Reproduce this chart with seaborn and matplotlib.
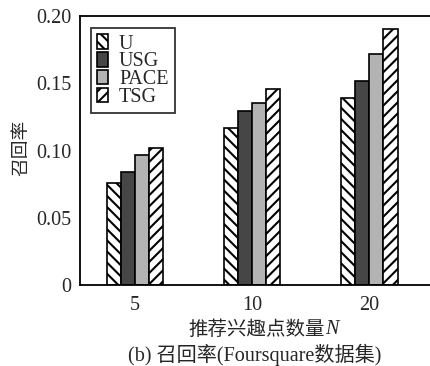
import matplotlib
matplotlib.use("Agg")
import matplotlib.pyplot as plt
import seaborn as sns
import pandas as pd

categories = ["5", "10", "20"]
methods = ["U", "USG", "PACE", "TSG"]
vals_U = [0.076, 0.117, 0.139]
vals_USG = [0.084, 0.129, 0.152]
vals_PACE = [0.097, 0.135, 0.172]
vals_TSG = [0.102, 0.146, 0.190]
yticks = [0, 0.05, 0.10, 0.15, 0.20]
ytick_labels = ["0", "0.05", "0.10", "0.15", "0.20"]

rows = []
for m, vs in zip(methods, [vals_U, vals_USG, vals_PACE, vals_TSG]):
    for c, v in zip(categories, vs):
        rows.append({"N": c, "method": m, "value": v})
df = pd.DataFrame(rows)

sns.set_style("white")
plt.rcParams["font.family"] = ["Liberation Serif", "Noto Sans CJK SC"]
plt.rcParams["hatch.linewidth"] = 1.5
plt.rcParams["hatch.color"] = "black"

fig = plt.figure(figsize=(4.3, 3.66), dpi=100)
ax = fig.add_axes([80 / 430, 1 - 285 / 366, 350 / 430, 269 / 366])

face = {"U": "white", "USG": "#464646", "PACE": "#b3b3b3", "TSG": "white"}
hatch = {"U": "\\\\\\", "USG": "", "PACE": "", "TSG": "///"}

sns.barplot(data=df, x="N", y="value", hue="method", order=categories,
            hue_order=methods, width=0.485, ax=ax, palette=face,
            edgecolor="black", linewidth=1.2, saturation=1, legend=True)

for cont, m in zip(ax.containers, methods):
    for p in cont.patches:
        p.set_facecolor(face[m])
        p.set_hatch(hatch[m])
        p.set_edgecolor("black")

ax.set_xlim(-0.47, 2.52)
ax.set_ylim(0, 0.20)
ax.set_yticks(yticks)
ax.set_yticklabels(ytick_labels)
ax.tick_params(axis="both", length=0, labelsize=14.5, pad=6)
ax.tick_params(axis="x", pad=8)
for s in ["left", "bottom", "top"]:
    ax.spines[s].set_linewidth(1.3)
    ax.spines[s].set_color("black")
ax.spines["right"].set_visible(False)

ax.set_ylabel("")
ax.set_xlabel("")
fig.text(22 / 430, 1 - 148 / 366, "召回率", rotation=90, ha="center",
         va="center", fontsize=13.5)

# x label: CJK part plus italic N
fig.text(325 / 430, 1 - 330 / 366, "推荐兴趣点数量", ha="right", va="center",
         fontsize=14)
fig.text(325 / 430, 1 - 330 / 366, "N", ha="left", va="center",
         fontsize=14.5, style="italic")

handles, labels = ax.get_legend_handles_labels()
for h, m in zip(handles, methods):
    h.set_facecolor(face[m])
    h.set_hatch(hatch[m])
    h.set_edgecolor("black")
leg = ax.legend(handles, labels, loc="upper left", bbox_to_anchor=(0.031, 0.955),
                fontsize=14.5, frameon=True, fancybox=False, edgecolor="black",
                handlelength=0.55, handleheight=0.75, handletextpad=0.55,
                labelspacing=-0.08, borderpad=0.3, borderaxespad=0)
leg.get_frame().set_linewidth(1.3)

fig.text(255 / 430, 1 - 355 / 366, "(b) 召回率(Foursquare数据集)", ha="center",
         va="center", fontsize=14.5)

fig.savefig("out.png", dpi=100)
